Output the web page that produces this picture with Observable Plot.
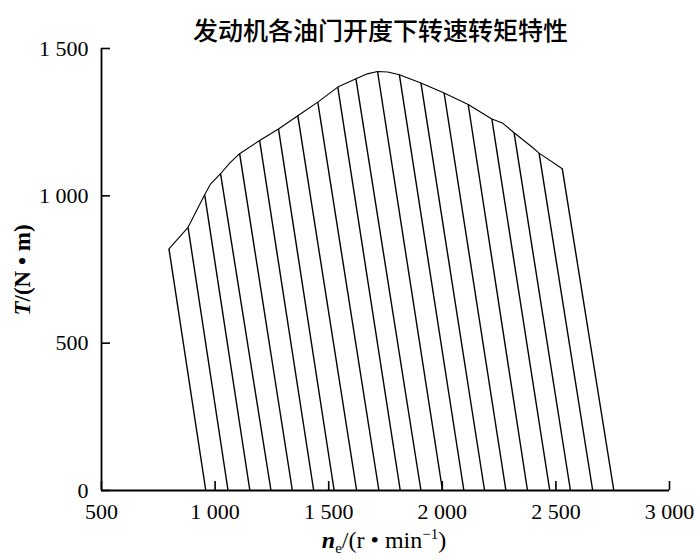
<!DOCTYPE html>
<html>
<head>
<meta charset="utf-8">
<script src="https://cdn.jsdelivr.net/npm/d3@7"></script>
<script src="https://cdn.jsdelivr.net/npm/@observablehq/plot@0.6"></script>
<style>
  body { margin: 0; background: #fff; }
  #chart svg { display: block; }
</style>
</head>
<body>
<div id="chart"></div>
<script>
const title = "发动机各油门开度下转速转矩特性";

// Throttle-opening lines: top point on full-load curve, end at zero torque
const lineTopN = [797, 881, 954, 1024, 1108, 1196, 1279, 1364, 1452, 1540, 1620, 1715, 1811, 1906, 2008, 2114, 2218, 2316, 2426, 2528];
const lineTopT = [820, 893, 1004, 1075, 1143, 1188, 1227, 1272, 1318, 1369, 1397, 1422, 1411, 1383, 1349, 1310, 1261, 1214, 1145, 1092];
const lineZeroN = [959, 1057, 1153, 1246, 1340, 1434, 1524, 1623, 1721, 1815, 1906, 2001, 2095, 2186, 2280, 2375, 2473, 2564, 2662, 2755];

// Full-load envelope
const envN = [797, 881, 954, 980, 1024, 1065, 1108, 1196, 1279, 1364, 1452, 1540, 1620, 1670, 1715, 1760, 1811, 1906, 2008, 2114, 2218, 2265, 2316, 2396, 2426, 2528];
const envT = [820, 893, 1004, 1040, 1075, 1112, 1143, 1188, 1227, 1272, 1318, 1369, 1397, 1414, 1422, 1420, 1411, 1383, 1349, 1310, 1261, 1247, 1214, 1165, 1145, 1092];

const xTicks = [500, 1000, 1500, 2000, 2500, 3000];
const yTicks = [0, 500, 1000, 1500];

const lines = lineTopN.map((n, i) => ({n1: n, t1: lineTopT[i], n2: lineZeroN[i], t2: 0}));
const env = envN.map((n, i) => ({n, t: envT[i]}));

const fmt = d => d3.format(",")(d).replace(/,/g, " ");

const plot = Plot.plot({
  width: 700,
  height: 560,
  marginLeft: 101,
  marginRight: 31,
  marginTop: 48,
  marginBottom: 70,
  style: {fontFamily: "'Liberation Serif', serif", fontSize: "22px", color: "#000", background: "#fff"},
  x: {domain: [500, 3000]},
  y: {domain: [0, 1500]},
  marks: [
    Plot.axisX(xTicks, {tickSize: 0, tickPadding: 13, tickFormat: fmt, fontSize: 22, label: null}),
    Plot.axisY(yTicks, {tickSize: 0, tickPadding: 13, tickFormat: fmt, fontSize: 22, label: null}),
    Plot.ruleX(xTicks, {y1: 0, y2: 0, insetTop: -9, stroke: "#000", strokeWidth: 1.6}),
    Plot.ruleY(yTicks, {x1: 500, x2: 500, insetRight: -9, stroke: "#000", strokeWidth: 1.6}),
    Plot.ruleY([0], {stroke: "#000", strokeWidth: 1.8}),
    Plot.ruleX([500], {stroke: "#000", strokeWidth: 1.8}),
    Plot.link(lines, {x1: "n1", y1: "t1", x2: "n2", y2: "t2", stroke: "#000", strokeWidth: 1.4}),
    Plot.line(env, {x: "n", y: "t", stroke: "#000", strokeWidth: 1.1}),
    Plot.text([title], {frameAnchor: "top", dx: -5, dy: -26, fontSize: 25, fontWeight: 500, fontFamily: "'Noto Sans CJK SC', sans-serif", fill: "#000"})
  ]
});

document.getElementById("chart").appendChild(plot);

// Axis labels with italic/sub/superscript parts
const svg = d3.select(plot);
const xl = svg.append("text")
  .attr("x", 384).attr("y", 548)
  .attr("text-anchor", "middle")
  .attr("font-family", "'Liberation Serif', serif")
  .attr("font-size", 24)
  .attr("fill", "#000");
xl.append("tspan").attr("font-style", "italic").attr("font-weight", "bold").text("n");
xl.append("tspan").attr("font-size", 15).attr("dy", 5).text("e");
xl.append("tspan").attr("dy", -5).text("/(r • min");
xl.append("tspan").attr("font-size", 15).attr("dy", -9).text("−1");
xl.append("tspan").attr("dy", 9).text(")");

const yl = svg.append("text")
  .attr("transform", "translate(30,270) rotate(-90)")
  .attr("text-anchor", "middle")
  .attr("font-family", "'Liberation Serif', serif")
  .attr("font-size", 23)
  .attr("font-weight", "bold")
  .attr("fill", "#000");
yl.append("tspan").attr("font-style", "italic").text("T");
yl.append("tspan").text("/(N • m)");
</script>
</body>
</html>
